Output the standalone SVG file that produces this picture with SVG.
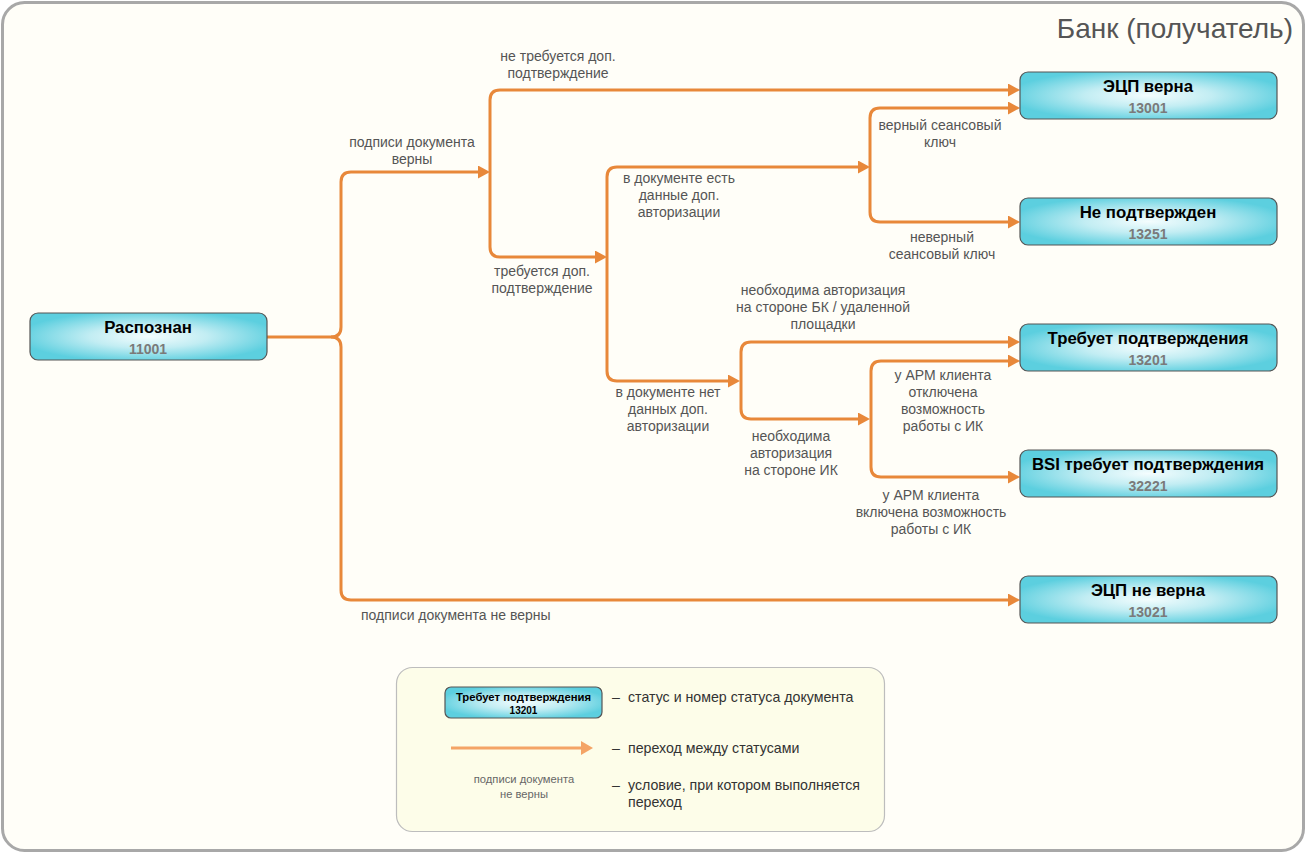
<svg xmlns="http://www.w3.org/2000/svg" width="1307" height="854" viewBox="0 0 1307 854">
<defs>
<radialGradient id="nodeGrad" cx="50%" cy="50%" r="55%">
<stop offset="0" stop-color="#f4fdfe"/>
<stop offset="0.45" stop-color="#c2edf3"/>
<stop offset="1" stop-color="#5ccfdf"/>
</radialGradient>
<marker id="arr" viewBox="0 0 12 13" refX="6" refY="6.5" markerWidth="12" markerHeight="13" markerUnits="userSpaceOnUse" orient="auto">
<path d="M0,0 L12,6.5 L0,13 z" fill="#e8883a"/>
</marker>
<marker id="arrL" viewBox="0 0 12 14" refX="6" refY="7" markerWidth="12" markerHeight="14" markerUnits="userSpaceOnUse" orient="auto">
<path d="M0,0 L12,7 L0,14 z" fill="#f4a466"/>
</marker>
</defs>
<style>
.node rect{fill:url(#nodeGrad);stroke:#555;stroke-width:1.2}
.title{font-family:"Liberation Sans",Arial,sans-serif;font-weight:bold;font-size:16.8px;fill:#000;text-anchor:middle}
.num{font-family:"Liberation Sans",Arial,sans-serif;font-weight:bold;font-size:14px;fill:#7a7a7a;text-anchor:middle}
.conn path{fill:none;stroke:#e8883a;stroke-width:3;marker-end:url(#arr)}
.lbl{font-family:"Liberation Sans",Arial,sans-serif;font-size:14px;fill:#555;text-anchor:middle}
.lbls{font-family:"Liberation Sans",Arial,sans-serif;font-size:14px;fill:#555;text-anchor:start}
.leg{font-family:"Liberation Sans",Arial,sans-serif;font-size:14.2px;fill:#333}
</style>
<rect x="2.5" y="2.5" width="1301" height="848" rx="22" fill="#fffef8" stroke="#a8a8a8" stroke-width="3"/>
<text x="1293" y="38" font-family="Liberation Sans,Arial,sans-serif" font-size="28" fill="#555" text-anchor="end">Банк (получатель)</text>

<g id="connectors" class="conn">
<path d="M267,337 H331 Q341,337 341,327 V182 Q341,172 351,172 H484"/>
<path d="M331,337 Q341,337 341,347 V590 Q341,600 351,600 H1014"/>
<path d="M490,172 V100 Q490,90 500,90 H1014"/>
<path d="M490,172 V247 Q490,257 500,257 H601"/>
<path d="M607,257 V177 Q607,167 617,167 H864"/>
<path d="M607,257 V371 Q607,381 617,381 H734"/>
<path d="M870,167 V118 Q870,108 880,108 H1014"/>
<path d="M870,167 V212 Q870,222 880,222 H1014"/>
<path d="M741,381 V352 Q741,342 751,342 H1014"/>
<path d="M741,381 V409 Q741,419 751,419 H864"/>
<path d="M871,419 V371 Q871,361 881,361 H1014"/>
<path d="M871,419 V467 Q871,477 881,477 H1014"/>
</g>

<g id="n11001" class="node"><rect x="30" y="313" width="237" height="47" rx="8"/><text class="title" x="148" y="333">Распознан</text><text class="num" x="148" y="354">11001</text></g>
<g id="n13001" class="node"><rect x="1020" y="72" width="257" height="47" rx="8"/><text class="title" x="1148" y="92">ЭЦП верна</text><text class="num" x="1148" y="113">13001</text></g>
<g id="n13251" class="node"><rect x="1020" y="198" width="257" height="47" rx="8"/><text class="title" x="1148" y="218">Не подтвержден</text><text class="num" x="1148" y="239">13251</text></g>
<g id="n13201" class="node"><rect x="1020" y="324" width="257" height="47" rx="8"/><text class="title" x="1148" y="344">Требует подтверждения</text><text class="num" x="1148" y="365">13201</text></g>
<g id="n32221" class="node"><rect x="1020" y="450" width="257" height="47" rx="8"/><text class="title" x="1148" y="470">BSI требует подтверждения</text><text class="num" x="1148" y="491">32221</text></g>
<g id="n13021" class="node"><rect x="1020" y="576" width="257" height="47" rx="8"/><text class="title" x="1148" y="596">ЭЦП не верна</text><text class="num" x="1148" y="617">13021</text></g>

<g id="labels">
<text class="lbl" x="558" y="61">не требуется доп.</text><text class="lbl" x="558" y="78">подтверждение</text>
<text class="lbl" x="412" y="147">подписи документа</text><text class="lbl" x="412" y="164">верны</text>
<text class="lbl" x="542" y="276">требуется доп.</text><text class="lbl" x="542" y="293">подтверждение</text>
<text class="lbl" x="679" y="183">в документе есть</text><text class="lbl" x="679" y="200">данные доп.</text><text class="lbl" x="679" y="217">авторизации</text>
<text class="lbl" x="940" y="130">верный сеансовый</text><text class="lbl" x="940" y="147">ключ</text>
<text class="lbl" x="942" y="242">неверный</text><text class="lbl" x="942" y="259">сеансовый ключ</text>
<text class="lbl" x="823" y="295">необходима авторизация</text><text class="lbl" x="823" y="312">на стороне БК / удаленной</text><text class="lbl" x="823" y="329">площадки</text>
<text class="lbl" x="668" y="397">в документе нет</text><text class="lbl" x="668" y="414">данных доп.</text><text class="lbl" x="668" y="431">авторизации</text>
<text class="lbl" x="791" y="441">необходима</text><text class="lbl" x="791" y="458">авторизация</text><text class="lbl" x="791" y="475">на стороне ИК</text>
<text class="lbl" x="943" y="380">у АРМ клиента</text><text class="lbl" x="943" y="397">отключена</text><text class="lbl" x="943" y="414">возможность</text><text class="lbl" x="943" y="431">работы с ИК</text>
<text class="lbl" x="931" y="500">у АРМ клиента</text><text class="lbl" x="931" y="517">включена возможность</text><text class="lbl" x="931" y="534">работы с ИК</text>
<text class="lbls" x="361" y="620">подписи документа не верны</text>
</g>

<g id="legend">
<rect x="396.5" y="667.5" width="488" height="164" rx="16" fill="#fdfde9" stroke="#bdbdbd" stroke-width="1.2"/>
<g id="legend-node" class="node"><rect x="445" y="687" width="157" height="31" rx="6"/>
<text x="523.5" y="701" font-family="Liberation Sans,Arial,sans-serif" font-weight="bold" font-size="11.3" fill="#000" text-anchor="middle">Требует подтверждения</text>
<text x="523.5" y="714" font-family="Liberation Sans,Arial,sans-serif" font-weight="bold" font-size="10" fill="#000" text-anchor="middle">13201</text></g>
<path d="M451,748 H587" fill="none" stroke="#f4a466" stroke-width="3" marker-end="url(#arrL)"/>
<text x="524" y="783" font-family="Liberation Sans,Arial,sans-serif" font-size="11.2" fill="#666" text-anchor="middle">подписи документа</text>
<text x="524" y="798" font-family="Liberation Sans,Arial,sans-serif" font-size="11.2" fill="#666" text-anchor="middle">не верны</text>
<text class="leg" x="612" y="702">–</text><text class="leg" x="628" y="702">статус и номер статуса документа</text>
<text class="leg" x="612" y="753">–</text><text class="leg" x="628" y="753">переход между статусами</text>
<text class="leg" x="612" y="790">–</text><text class="leg" x="628" y="790">условие, при котором выполняется</text>
<text class="leg" x="628" y="807">переход</text>
</g>
</svg>
